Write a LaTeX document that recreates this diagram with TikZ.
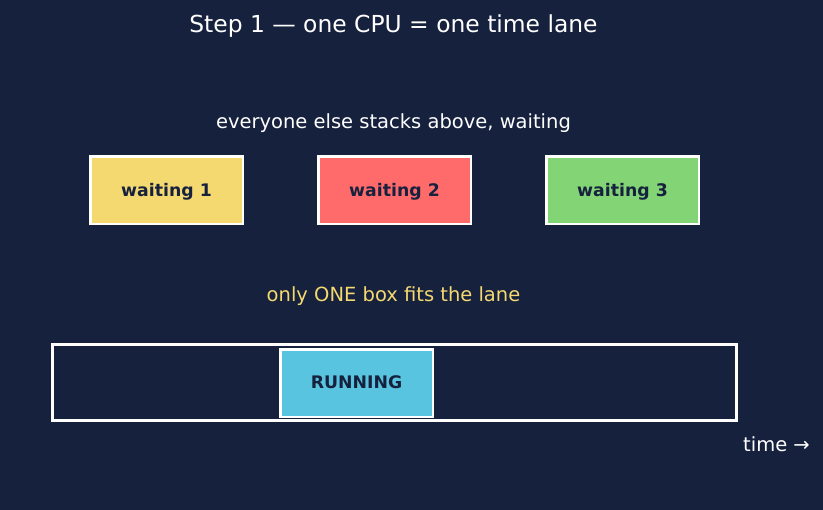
\documentclass[tikz,border=0pt]{standalone}
\usepackage{fontspec}
\setmainfont{DejaVu Sans}
\definecolor{bg}{HTML}{16213E}
\definecolor{ink}{HTML}{16213E}
\definecolor{ywait}{HTML}{F4D870}
\definecolor{rwait}{HTML}{FF6B6B}
\definecolor{gwait}{HTML}{83D475}
\definecolor{brun}{HTML}{58C4DF}
\begin{document}
\begin{tikzpicture}[x=1pt,y=-1pt,
  box/.style={draw=white,line width=2.5pt,minimum width=152.5pt,minimum height=67.5pt,inner sep=0pt},
  lbl/.style={font=\fontsize{17.3}{20}\selectfont\bfseries,text=ink,inner sep=0pt,anchor=base},
  txt/.style={text=white,inner sep=0pt,anchor=base}]
\fill[bg] (0,0) rectangle (823,510);
\useasboundingbox (0,0) rectangle (823,510);
\node[txt,font=\fontsize{23.4}{26}\selectfont] (title) at (393.5,33) {Step 1 — one CPU = one time lane};
\node[txt,font=\fontsize{19.5}{22}\selectfont] (stack) at (393.5,128.5) {everyone else stacks above, waiting};
\node[box,fill=ywait] (w1) at (166.5,190.3) {};
\node[box,fill=rwait] (w2) at (394.5,190.3) {};
\node[box,fill=gwait] (w3) at (622.5,190.3) {};
\node[lbl] (w1l) at (166.5,197) {waiting 1};
\node[lbl] (w2l) at (394.5,197) {waiting 2};
\node[lbl] (w3l) at (622.5,197) {waiting 3};
\node[txt,text=ywait,font=\fontsize{19.5}{22}\selectfont] (one) at (393.5,301.5) {only ONE box fits the lane};
\node[draw=white,line width=3pt,minimum width=684pt,minimum height=76pt,inner sep=0pt] (lane) at (394,382.7) {};
\node[box,fill=brun] (run) at (356.5,383.3) {};
\node[lbl] (runl) at (356.5,389) {RUNNING};
\node[txt,font=\fontsize{19.5}{22}\selectfont] (time) at (776.5,451.5) {time →};
\end{tikzpicture}
\end{document}
